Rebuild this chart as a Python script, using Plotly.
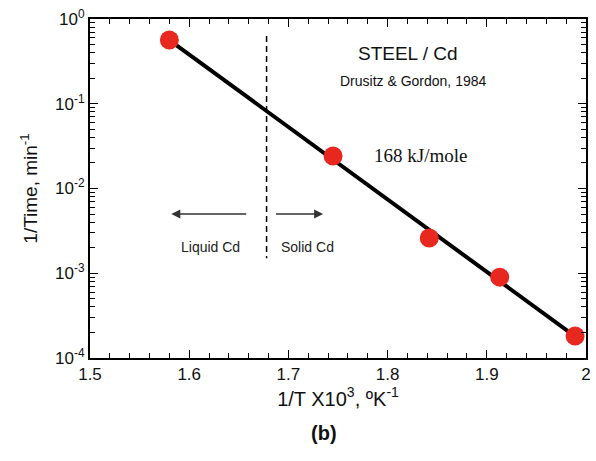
import numpy as np
import plotly.graph_objects as go

# Reciprocal temperature (1000/T, K^-1) and reciprocal failure time (min^-1)
inv_T = [1.580, 1.745, 1.842, 1.913, 1.989]
inv_time = [0.565, 0.0242, 0.0026, 0.00090, 0.000182]

melt_x = 1.678          # melting point of Cd in 1000/T
x_ticks = [1.5, 1.6, 1.7, 1.8, 1.9, 2.0]
x_tick_text = ["1.5", "1.6", "1.7", "1.8", "1.9", "2"]
y_ticks = [1e-4, 1e-3, 1e-2, 1e-1, 1e0]
y_tick_text = ["10<sup>-4</sup>", "10<sup>-3</sup>", "10<sup>-2</sup>",
               "10<sup>-1</sup>", "10<sup>0</sup>"]

# Arrhenius fit in log space
coef = np.polyfit(inv_T, np.log10(inv_time), 1)
fit_x = [inv_T[0], inv_T[-1]]
fit_y = [10 ** np.polyval(coef, v) for v in fit_x]

fig = go.Figure()
fig.add_trace(go.Scatter(x=fit_x, y=fit_y, mode="lines",
                         line=dict(color="black", width=4), showlegend=False))
fig.add_trace(go.Scatter(x=inv_T, y=inv_time, mode="markers",
                         marker=dict(color="#e8271e", size=19), showlegend=False))

# Melting boundary
fig.add_trace(go.Scatter(x=[melt_x, melt_x], y=[0.63, 0.0015], mode="lines",
                         line=dict(color="black", width=1.5, dash="6px,4px"),
                         showlegend=False))

fig.add_annotation(x=1.582, y=np.log10(0.005), ax=1.659, ay=np.log10(0.005),
                   xref="x", yref="y", axref="x", ayref="y", text="",
                   showarrow=True, arrowhead=2, arrowsize=1.2, arrowwidth=1.5,
                   arrowcolor="#333")
fig.add_annotation(x=1.735, y=np.log10(0.005), ax=1.686, ay=np.log10(0.005),
                   xref="x", yref="y", axref="x", ayref="y", text="",
                   showarrow=True, arrowhead=2, arrowsize=1.2, arrowwidth=1.5,
                   arrowcolor="#333")

font = "Liberation Sans, Arial, sans-serif"
fig.add_annotation(x=1.621, y=np.log10(0.00205), text="Liquid Cd", showarrow=False,
                   font=dict(family=font, size=14, color="#222"))
fig.add_annotation(x=1.719, y=np.log10(0.00205), text="Solid Cd", showarrow=False,
                   font=dict(family=font, size=14, color="#222"))
fig.add_annotation(x=1.821, y=np.log10(0.39), text="STEEL / Cd", showarrow=False,
                   font=dict(family=font, size=19, color="#111"))
fig.add_annotation(x=1.826, y=np.log10(0.186), text="Drusitz &amp; Gordon, 1984",
                   showarrow=False, font=dict(family=font, size=14, color="#111"))
fig.add_annotation(x=1.833, y=np.log10(0.0245), text="168 kJ/mole", showarrow=False,
                   font=dict(family="Liberation Serif, Times New Roman, serif",
                             size=19, color="#111"))
fig.add_annotation(x=(326 - 90) / 501, y=-(446 - 358) / 339, xref="paper", yref="paper",
                   text="<b>(b)</b>", showarrow=False,
                   font=dict(family=font, size=20, color="#111"))

axis_common = dict(showline=True, linecolor="black", linewidth=2,
                   mirror="allticks", ticks="inside", tickcolor="black",
                   showgrid=False, zeroline=False,
                   tickfont=dict(family=font, size=17, color="#111"))

minor_y = [m * 10.0 ** k for k in range(-4, 0) for m in range(2, 10)]

fig.update_xaxes(range=[1.5, 2.0], tickvals=x_ticks, ticktext=x_tick_text,
                 ticklen=8, tickwidth=1,
                 minor=dict(ticks="inside", dtick=0.02, ticklen=5,
                            tickcolor="black"),
                 title=dict(text="1/T X10<sup>3</sup>, ºK<sup>-1</sup>",
                            font=dict(family=font, size=20, color="#111"),
                            standoff=8),
                 **axis_common)
fig.update_yaxes(type="log", range=[-4, 0], tickvals=y_ticks, ticktext=y_tick_text,
                 ticklen=8, tickwidth=1,
                 minor=dict(ticks="inside", tickvals=minor_y, ticklen=5,
                            tickcolor="black"),
                 title=dict(text="1/Time, min<sup>-1</sup>",
                            font=dict(family=font, size=19, color="#111"),
                            standoff=12),
                 **axis_common)

fig.update_layout(width=596, height=461, margin=dict(l=90, r=5, t=19, b=103),
                  plot_bgcolor="white", paper_bgcolor="white")

fig.write_html("out.html")
